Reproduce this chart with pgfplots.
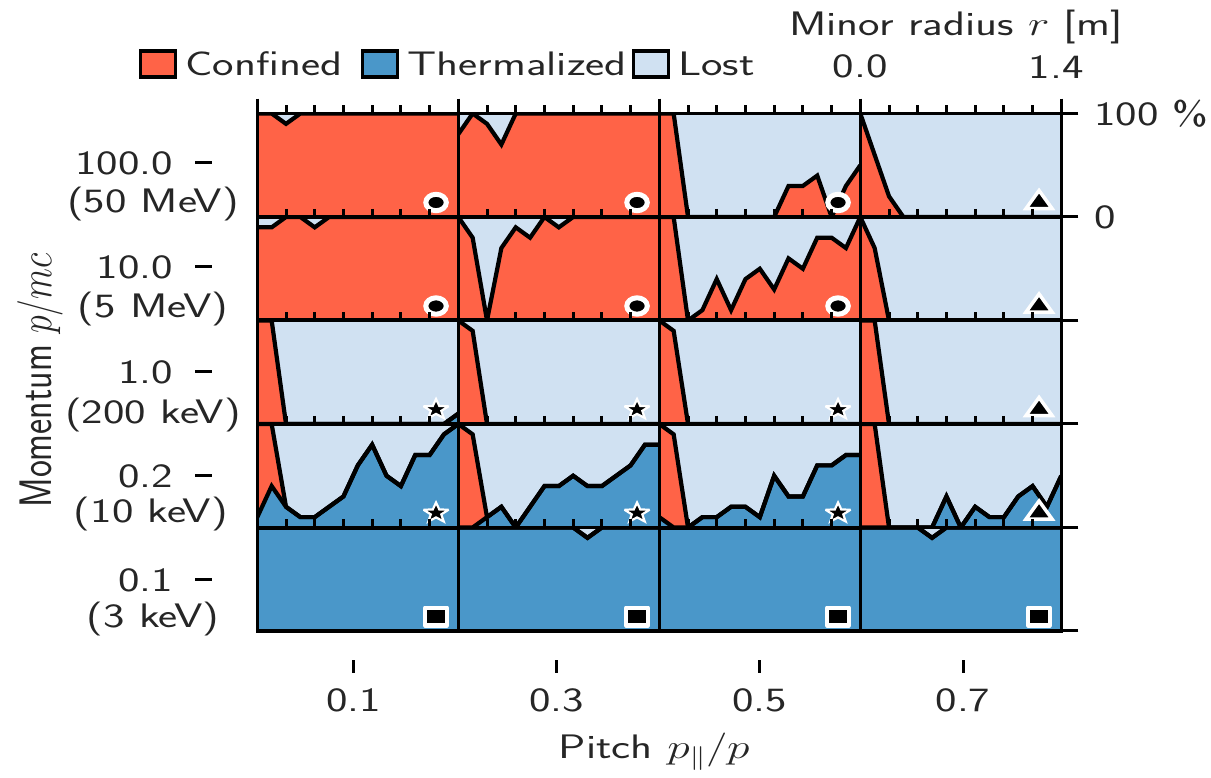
\RequirePackage{fix-cm}
\documentclass[border=0pt]{standalone}
\usepackage{fontspec}
\usepackage{graphicx}
\usepackage{pgfplots}
\usepackage{pgfplotstable}
\pgfplotsset{compat=1.18}
\definecolor{confined}{HTML}{FF6347}
\definecolor{thermal}{HTML}{4A97C9}
\definecolor{lost}{HTML}{D0E1F2}
\definecolor{textc}{HTML}{262626}
\newcommand\lab{\sffamily\fontsize{34}{40}\selectfont}
\newcommand\T[1]{\scalebox{1.34}[1]{#1}}
\pgfdeclareplotmark{fivestar}{%
  \pgfpathmoveto{\pgfpointpolar{90}{\pgfplotmarksize}}%
  \pgfpathlineto{\pgfpointpolar{126}{0.42*\pgfplotmarksize}}%
  \pgfpathlineto{\pgfpointpolar{162}{\pgfplotmarksize}}%
  \pgfpathlineto{\pgfpointpolar{198}{0.42*\pgfplotmarksize}}%
  \pgfpathlineto{\pgfpointpolar{234}{\pgfplotmarksize}}%
  \pgfpathlineto{\pgfpointpolar{270}{0.42*\pgfplotmarksize}}%
  \pgfpathlineto{\pgfpointpolar{306}{\pgfplotmarksize}}%
  \pgfpathlineto{\pgfpointpolar{342}{0.42*\pgfplotmarksize}}%
  \pgfpathlineto{\pgfpointpolar{18}{\pgfplotmarksize}}%
  \pgfpathlineto{\pgfpointpolar{54}{0.42*\pgfplotmarksize}}%
  \pgfpathclose\pgfusepathqfillstroke}
\pgfplotsset{
  mcirc/.style={mark=*,mark size=8.2pt,mark options={xscale=1.25,draw=white,fill=black,line width=5pt}},
  mstar/.style={mark=fivestar,mark size=10.5pt,mark options={xscale=1.25,draw=white,fill=black,line width=2.2pt,miter limit=3}},
  mtri/.style={mark=triangle*,mark size=12pt,mark options={xscale=1.25,draw=white,fill=black,line width=3.5pt,miter limit=3}},
  msq/.style={mark=square*,mark size=8.75pt,mark options={xscale=1.25,draw=white,fill=black,line width=4.5pt,line join=round}},
}
% Momentum rows; r is the minor radius, T thermalized, C thermalized+confined, L all
\pgfplotstableread{
r   L T1 C1  T2 C2  T3 C3  T4 C4
0.0 1 0 1.0 0 0.8 0 1.0 0 1.0
0.1 1 0 1.0 0 1.0 0 1.0 0 0.6
0.2 1 0 0.9 0 0.9 0 0.0 0 0.2
0.3 1 0 1.0 0 0.7 0 0.0 0 0.0
0.4 1 0 1.0 0 1.0 0 0.0 0 0.0
0.5 1 0 1.0 0 1.0 0 0.0 0 0.0
0.6 1 0 1.0 0 1.0 0 0.0 0 0.0
0.7 1 0 1.0 0 1.0 0 0.0 0 0.0
0.8 1 0 1.0 0 1.0 0 0.0 0 0.0
0.9 1 0 1.0 0 1.0 0 0.3 0 0.0
1.0 1 0 1.0 0 1.0 0 0.3 0 0.0
1.1 1 0 1.0 0 1.0 0 0.4 0 0.0
1.2 1 0 1.0 0 1.0 0 0.0 0 0.0
1.3 1 0 1.0 0 1.0 0 0.3 0 0.0
1.4 1 0 1.0 0 1.0 0 0.5 0 0.0
}\rowA
\pgfplotstableread{
r   L T1 C1  T2 C2  T3 C3  T4 C4
0.0 1 0 0.9 0 1.0 0 1.0 0 1.0
0.1 1 0 0.9 0 0.8 0 1.0 0 0.7
0.2 1 0 1.0 0 0.0 0 0.0 0 0.0
0.3 1 0 1.0 0 0.7 0 0.1 0 0.0
0.4 1 0 0.9 0 0.9 0 0.4 0 0.0
0.5 1 0 1.0 0 0.8 0 0.1 0 0.0
0.6 1 0 1.0 0 1.0 0 0.4 0 0.0
0.7 1 0 1.0 0 0.9 0 0.5 0 0.0
0.8 1 0 1.0 0 1.0 0 0.3 0 0.0
0.9 1 0 1.0 0 1.0 0 0.6 0 0.0
1.0 1 0 1.0 0 1.0 0 0.5 0 0.0
1.1 1 0 1.0 0 1.0 0 0.8 0 0.0
1.2 1 0 1.0 0 1.0 0 0.8 0 0.0
1.3 1 0 1.0 0 1.0 0 0.7 0 0.0
1.4 1 0 1.0 0 1.0 0 1.0 0 0.0
}\rowB
\pgfplotstableread{
r   L T1 C1  T2 C2  T3 C3  T4 C4
0.0 1 0.0 1.0 0 1.0 0 1.0 0 1.0
0.1 1 0.0 1.0 0 0.9 0 0.9 0 1.0
0.2 1 0.0 0.0 0 0.0 0 0.0 0 0.0
0.3 1 0.0 0.0 0 0.0 0 0.0 0 0.0
0.4 1 0.0 0.0 0 0.0 0 0.0 0 0.0
0.5 1 0.0 0.0 0 0.0 0 0.0 0 0.0
0.6 1 0.0 0.0 0 0.0 0 0.0 0 0.0
0.7 1 0.0 0.0 0 0.0 0 0.0 0 0.0
0.8 1 0.0 0.0 0 0.0 0 0.0 0 0.0
0.9 1 0.0 0.0 0 0.0 0 0.0 0 0.0
1.0 1 0.0 0.0 0 0.0 0 0.0 0 0.0
1.1 1 0.0 0.0 0 0.0 0 0.0 0 0.0
1.2 1 0.0 0.0 0 0.0 0 0.0 0 0.0
1.3 1 0.0 0.0 0 0.0 0 0.0 0 0.0
1.4 1 0.1 0.1 0 0.0 0 0.0 0 0.0
}\rowC
\pgfplotstableread{
r   L T1  C1  T2  C2  T3  C3  T4  C4
0.0 1 0.1 1.0 0.0 1.0 0.1 1.0 0.0 1.0
0.1 1 0.4 1.0 0.0 0.9 0.0 0.9 0.0 1.0
0.2 1 0.2 0.2 0.1 0.1 0.0 0.0 0.0 0.0
0.3 1 0.1 0.1 0.2 0.2 0.1 0.1 0.0 0.0
0.4 1 0.1 0.1 0.0 0.0 0.1 0.1 0.0 0.0
0.5 1 0.2 0.2 0.2 0.2 0.2 0.2 0.0 0.0
0.6 1 0.3 0.3 0.4 0.4 0.2 0.2 0.3 0.3
0.7 1 0.6 0.6 0.4 0.4 0.1 0.1 0.0 0.0
0.8 1 0.8 0.8 0.5 0.5 0.5 0.5 0.2 0.2
0.9 1 0.5 0.5 0.4 0.4 0.3 0.3 0.1 0.1
1.0 1 0.4 0.4 0.4 0.4 0.3 0.3 0.1 0.1
1.1 1 0.7 0.7 0.5 0.5 0.6 0.6 0.3 0.3
1.2 1 0.7 0.7 0.6 0.6 0.6 0.6 0.4 0.4
1.3 1 0.9 0.9 0.8 0.8 0.7 0.7 0.2 0.2
1.4 1 1.0 1.0 0.8 0.8 0.7 0.7 0.5 0.5
}\rowD
\pgfplotstableread{
r   L T1  C1  T2  C2  T3  C3  T4  C4
0.0 1 1.0 1.0 1.0 1.0 1.0 1.0 1.0 1.0
0.1 1 1.0 1.0 1.0 1.0 1.0 1.0 1.0 1.0
0.2 1 1.0 1.0 1.0 1.0 1.0 1.0 1.0 1.0
0.3 1 1.0 1.0 1.0 1.0 1.0 1.0 1.0 1.0
0.4 1 1.0 1.0 1.0 1.0 1.0 1.0 1.0 1.0
0.5 1 1.0 1.0 1.0 1.0 1.0 1.0 0.9 0.9
0.6 1 1.0 1.0 1.0 1.0 1.0 1.0 1.0 1.0
0.7 1 1.0 1.0 1.0 1.0 1.0 1.0 1.0 1.0
0.8 1 1.0 1.0 1.0 1.0 1.0 1.0 1.0 1.0
0.9 1 1.0 1.0 0.9 0.9 1.0 1.0 1.0 1.0
1.0 1 1.0 1.0 1.0 1.0 1.0 1.0 1.0 1.0
1.1 1 1.0 1.0 1.0 1.0 1.0 1.0 1.0 1.0
1.2 1 1.0 1.0 1.0 1.0 1.0 1.0 1.0 1.0
1.3 1 1.0 1.0 1.0 1.0 1.0 1.0 1.0 1.0
1.4 1 1.0 1.0 1.0 1.0 1.0 1.0 1.0 1.0
}\rowE
% #1 table, #2 column, #3 left, #4 bottom, #5 marker style
\newcommand\panel[5]{%
\begin{axis}[at={(#3pt,#4pt)},anchor=south west,scale only axis,width=201pt,height=103.5pt,
  xmin=0,xmax=1.4,ymin=0,ymax=1,axis on top,
  axis line style={black,line width=3.5pt},
  xtick={0.2,0.4,0.6,0.8,1.0,1.2},xticklabels={},ytick=\empty,
  xtick pos=upper,tick align=outside,major tick length=8pt,
  tick style={black,line width=3pt}]
\addplot[fill=lost,draw=none] table[x=r,y=L]{#1}\closedcycle;
\addplot[fill=confined,draw=none] table[x=r,y=C#2]{#1}\closedcycle;
\addplot[fill=thermal,draw=none] table[x=r,y=T#2]{#1}\closedcycle;
\addplot[black,line width=4.2pt] table[x=r,y=C#2]{#1};
\addplot[black,line width=4.2pt] table[x=r,y=T#2]{#1};
\addplot[only marks,#5] coordinates {(1.245,0.14)};
\end{axis}}
\begin{document}
\begin{tikzpicture}[x=1pt,y=1pt,every node/.append style={text=textc}]
\path[use as bounding box] (0,0) rectangle (1211,777);
\panel{\rowA}{1}{257.3}{560}{mcirc}
\panel{\rowA}{2}{458.3}{560}{mcirc}
\panel{\rowA}{3}{659.3}{560}{mcirc}
\panel{\rowA}{4}{860.3}{560}{mtri}
\panel{\rowB}{1}{257.3}{456.5}{mcirc}
\panel{\rowB}{2}{458.3}{456.5}{mcirc}
\panel{\rowB}{3}{659.3}{456.5}{mcirc}
\panel{\rowB}{4}{860.3}{456.5}{mtri}
\panel{\rowC}{1}{257.3}{353}{mstar}
\panel{\rowC}{2}{458.3}{353}{mstar}
\panel{\rowC}{3}{659.3}{353}{mstar}
\panel{\rowC}{4}{860.3}{353}{mtri}
\panel{\rowD}{1}{257.3}{249.5}{mstar}
\panel{\rowD}{2}{458.3}{249.5}{mstar}
\panel{\rowD}{3}{659.3}{249.5}{mstar}
\panel{\rowD}{4}{860.3}{249.5}{mtri}
\panel{\rowE}{1}{257.3}{146}{msq}
\panel{\rowE}{2}{458.3}{146}{msq}
\panel{\rowE}{3}{659.3}{146}{msq}
\panel{\rowE}{4}{860.3}{146}{msq}
% top ticks: minor radius
\begin{axis}[at={(257.3pt,663.5pt)},anchor=south west,scale only axis,width=804pt,height=1pt,
  xmin=0,xmax=4,ymin=0,ymax=1,hide y axis,axis x line*=top,axis line style={draw=none},
  xtick={0,1,2,3,4},xticklabels={,,,\T{0.0},\T{1.4}\hspace*{10pt}},tick align=outside,major tick length=14pt,
  tick style={black,line width=3pt},
  xticklabel style={font=\lab,inner sep=0pt,yshift=20pt},
  xlabel={\T{Minor radius $r$ [m]}},
  xlabel style={font=\lab,at={(axis description cs:0.869,1)},anchor=center,yshift=85pt}]
\end{axis}
% right ticks
\begin{axis}[at={(1061.3pt,146pt)},anchor=south west,scale only axis,width=1pt,height=517.5pt,
  xmin=0,xmax=1,ymin=0,ymax=5,hide x axis,axis y line*=right,axis line style={draw=none},
  ytick={0,1,2,3,4,5},yticklabels={,,,,\T{0},\T{100 \%}},tick align=outside,major tick length=16pt,
  tick style={black,line width=3pt},
  yticklabel style={font=\lab,inner sep=0pt,anchor=west,xshift=16pt}]
\end{axis}
% bottom ticks: pitch
\begin{axis}[at={(252.15pt,117pt)},anchor=south west,scale only axis,width=812.4pt,height=1pt,
  xmin=0,xmax=0.8,ymin=0,ymax=1,hide y axis,axis x line*=bottom,axis line style={draw=none},
  xtick={0.1,0.3,0.5,0.7},xticklabels={\T{0.1},\T{0.3},\T{0.5},\T{0.7}},tick align=outside,major tick length=13pt,
  tick style={black,line width=3pt},
  xticklabel style={font=\lab,inner sep=0pt,yshift=-15pt},
  xlabel={\T{Pitch $p_\parallel/p$}},
  xlabel style={font=\lab,at={(axis description cs:0.495,0)},anchor=center,yshift=-92pt}]
\end{axis}
% left ticks: momentum
\begin{axis}[at={(212pt,146pt)},anchor=south west,scale only axis,width=1pt,height=517.5pt,
  xmin=0,xmax=1,ymin=146,ymax=663.5,hide x axis,axis y line*=left,axis line style={draw=none},
  ytick={197,301,405,510,614},yticklabels={\T{0.1},\T{0.2},\T{1.0},\T{10.0},\T{100.0}},
  tick align=outside,major tick length=17pt,
  tick style={black,line width=3pt},
  yticklabel style={font=\lab,inner sep=0pt,anchor=east,xshift=-22pt},
  ylabel={\scalebox{1.06}[1.34]{Momentum $p/mc$}},
  ylabel style={font=\lab,at={(axis description cs:-172,0.484)},anchor=center}]
\end{axis}
\foreach \yy/\xx/\tt in {573/153/(50 MeV),468/153/(5 MeV),362/153/(200 keV),263/151/(10 keV),158/153/(3 keV)}
  \node[font=\lab,inner sep=0pt] at (\xx,\yy) {\T{\tt}};
% legend
\begin{axis}[at={(0pt,0pt)},anchor=south west,scale only axis,width=1211pt,height=777pt,
  xmin=0,xmax=1211,ymin=0,ymax=777,hide axis,
  legend style={at={(0.1146,0.9176)},anchor=west,draw=none,fill=none,inner sep=0pt,
    legend columns=3,font=\lab,text=textc,
    /tikz/every odd column/.append style={column sep=6pt},
    /tikz/column 2/.style={column sep=16.5pt},
    /tikz/column 4/.style={column sep=3pt}},
  legend cell align=left,
  legend image code/.code={\draw[#1,draw=black,line width=3.5pt] (0pt,-13pt) rectangle (35pt,13pt);}]
\addlegendimage{fill=confined}\addlegendentry{\T{Confined}}
\addlegendimage{fill=thermal}\addlegendentry{\T{Thermalized}}
\addlegendimage{fill=lost}\addlegendentry{\T{Lost}}
\end{axis}
\end{tikzpicture}
\end{document}
